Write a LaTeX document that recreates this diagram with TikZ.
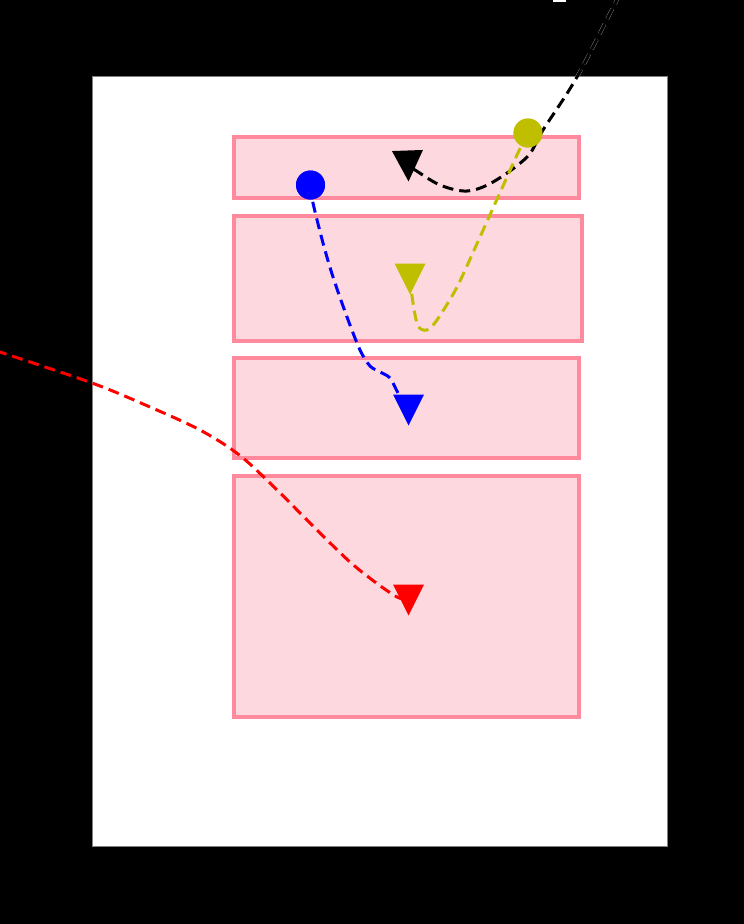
\documentclass[tikz,border=0pt]{standalone}
\usetikzlibrary{calc}
\definecolor{boxedge}{RGB}{255,138,158}
\definecolor{boxfill}{RGB}{253,217,223}
\definecolor{oliveY}{RGB}{191,191,0}
\begin{document}
\begin{tikzpicture}[x=1pt,y=-1pt,
  pinkbox/.style={draw=boxedge, fill=boxfill, line width=4pt},
  trail/.style={line width=3pt, dash pattern=on 11pt off 6pt},
  dot/.style={circle, minimum size=29pt, inner sep=0pt, draw=none, fill=#1},
  vmark/.pic={\fill (-15.5,-15.5) -- (15.5,-15.5) -- (0,15.5) -- cycle;}]
\useasboundingbox (0,0) rectangle (744,924);
\clip (0,0) rectangle (744,924);
\fill[black] (0,0) rectangle (744,924);
\fill[white] (553,0) rectangle (566,2);
% named points
\coordinate (ks) at (630,-20);
\coordinate (kt) at (408,166);
\coordinate (yt) at (410,279);
\coordinate (bt) at (408.5,410);
\coordinate (rs) at (-20,345);
\coordinate (rt) at (408.5,600);
% faint halo of the black trail outside the page
\draw[trail, white, line width=3.8pt, opacity=0.55] plot[smooth, tension=0.55] coordinates {(ks) (617,0) (577,77) (543,130) (527,157) (493,182) (467,191) (440,185) (415,170) (kt)};
% page
\draw[gray, line width=1pt, fill=white] (92,76) rectangle (667,846);
% boxes
\draw[pinkbox] (234,137) rectangle (579,198);
\draw[pinkbox] (234,216) rectangle (582,341);
\draw[pinkbox] (234,358) rectangle (579,458);
\draw[pinkbox] (234,476) rectangle (579,717);
\node[dot=oliveY] (yc) at (528,133) {};
\node[dot=blue] (bc) at (310.5,185) {};
% connectors
\draw[trail, black] plot[smooth, tension=0.55] coordinates {(ks) (617,0) (577,77) (543,130) (527,157) (493,182) (467,191) (440,185) (415,170) (kt)};
\draw[trail, red] plot[smooth, tension=0.55] coordinates {(rs) (0,352) (92,383) (150,407) (200,430) (238,454) (272,485) (320,533) (350,562) (375,582) (397,597) (rt)};
\draw[trail, blue] plot[smooth, tension=0.5] coordinates {(bc.center) (313,203) (323,243) (333,277) (347,317) (360,350) (370,366) (380,372) (390,378) (398,393) (bt)};
\draw[trail, oliveY] plot[smooth, tension=0.5] coordinates {(yc.center) (517,155) (480,237) (457,287) (437,320) (427,330) (418,326) (413,303) (yt)};
% circles on top
\node[dot=oliveY] at (yc) {};
\node[dot=blue] at (bc) {};
% markers
\pic[black, rotate=2] at (kt) {vmark};
\pic[oliveY] at (yt) {vmark};
\pic[blue] at (bt) {vmark};
\pic[red] at (rt) {vmark};
\end{tikzpicture}
\end{document}
